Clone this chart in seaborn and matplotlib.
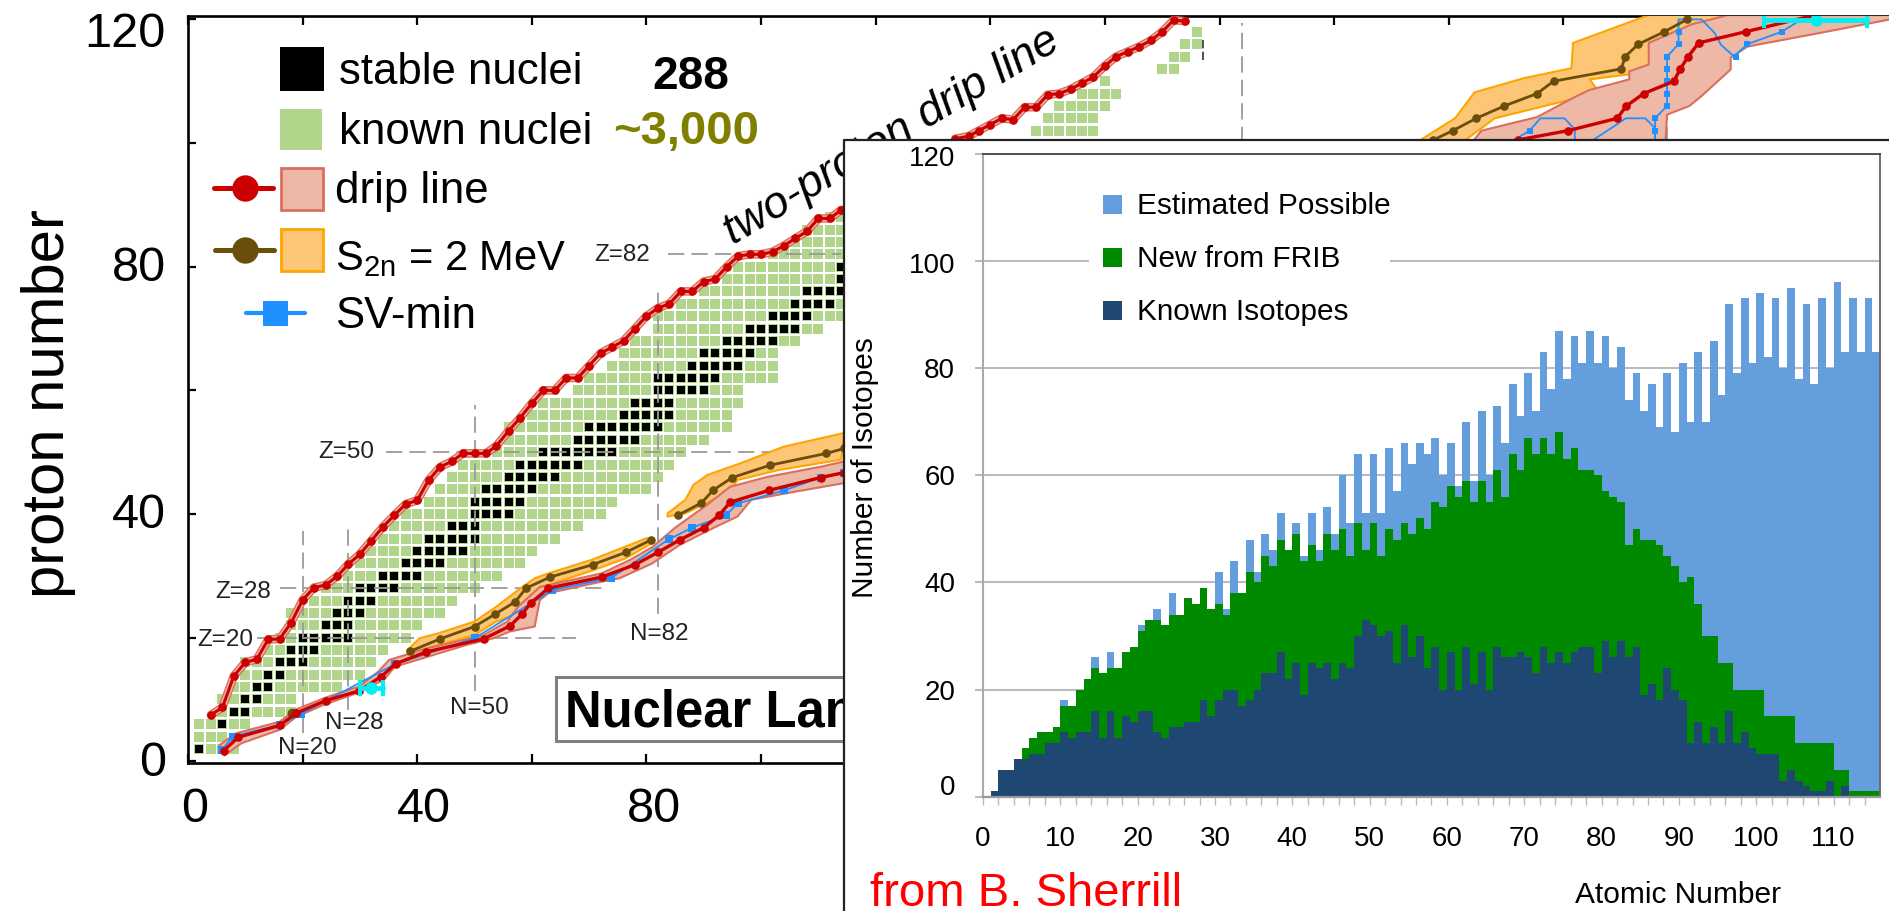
import numpy as np
import pandas as pd
import seaborn as sns
import matplotlib
matplotlib.use("Agg")
import matplotlib.pyplot as plt
from matplotlib.patches import Rectangle
from matplotlib.transforms import ScaledTranslation

W, H = 1890, 911

# ---- nuclear chart: even-even rows (Z, first N, last N)
ROW_Z = [2,4,6,8,10,12,14,16,18,20,22,24,26,28,30,32,34,36,38,40,42,44,46,48,50,52,54,56,58,60,62,64,66,68,70,72,74,76,78,80,82,84,86,88,
         102,104,106,108,110,112,114,116,118]
ROW_START = [2,2,2,6,6,8,10,10,14,16,18,18,22,24,28,30,32,34,36,38,42,44,46,48,54,56,56,60,62,68,70,74,76,78,82,82,86,90,94,96,102,106,108,112,
             148,150,152,156,160,170,172,174,176]
ROW_END = [8,6,10,18,18,26,30,32,34,38,40,44,46,50,54,58,60,64,68,72,74,80,82,84,86,90,94,94,96,96,102,102,102,106,110,114,116,118,120,120,120,120,120,120,
           158,158,160,162,160,172,174,176,176]
STABLE_Z = [2,6,8,10,12,14,16,18,20,22,24,26,28,30,32,34,36,38,40,42,44,46,48,50,52,54,56,58,60,62,64,66,68,70,72,74,76,78,80]
STABLE_START = [2,6,8,10,12,14,16,18,20,24,26,28,30,34,38,40,42,46,50,50,52,56,58,62,68,70,76,78,82,82,88,90,94,98,102,106,108,114,114]
STABLE_END = [2,6,10,12,14,16,20,22,28,28,30,32,36,40,44,48,50,50,56,58,60,64,68,74,78,82,84,84,90,92,96,98,102,106,108,112,116,118,118]

# ---- two-proton drip line
TWOP_N = [4,6,8,10,12,14,16,18,20,22,24,26,28,30,32,34,36,38,40,42,44,46,48,50,52,53.8,56,57.9,60,62,64,66,68,70,72,74,76,78,80,82,84,86,88,90,92,94,96,98,100,102,104,106,108,110,112,114,
          133.9,136.2,138,140,142,144,146,148,150,152,154,156,158,160,162,164,166,168,170,172,174]
TWOP_Z = [7.5,8.7,13.8,16,16.5,19.7,19.8,22.4,26.1,28.1,28.5,29.9,31.9,33.5,35.7,37.9,39.8,41.6,42.2,45.5,47.6,48.5,49.8,49.8,49.8,51,53.5,55.5,57.9,60,60,62,62,64,66,67,68,70,72,73.3,74,76,76,77.6,78,80,81.7,82,82,82.4,83.4,84.6,85.7,87.8,87.8,89.2,
          100.7,101.1,102,103,104,103.8,105.8,105.8,107.8,108,108.7,109.7,110.7,112.5,114,114.8,115.6,116.6,118,119.9,119.7]

# ---- neutron drip line (lower part / upper part)
DRIP_N = [6.2,8.8,16,18.9,24,29.9,33.7,36.3,41.6,51.6,56.2,58.3,59.8,62.9,72.2,78,82,85.8,90,92.7,94.6,101.3,110.4,114.5]
DRIP_Z = [1.7,3.9,5.8,7.8,9.8,11.4,13.7,15.8,17.7,19.8,21.9,23.8,25.6,28,29.8,31.8,33.8,35.8,37.8,39.8,41.9,43.8,45.9,46.7]
DRIP2_N = [232,240.8,249.4,251,254,259.3,260.4,261.8,263.6,271.8,283]
DRIP2_Z = [100.5,102,104,106,108,110,112,114,116.2,118,120.5]
BAND_N = [5.5,8.3,16,18.9,24,29.9,33.2,35.1,41.8,51.4,55.7,57.6,59.5,61.4,72.2,77.2,81.1,84.9,90.6,94.6,101.1,110.7,114.5,
          114.5,105.9,98.3,95.9,91.6,85.8,81,75.3,72.4,62.9,61.4,60.5,56.2,53.3,48.5,41.8,36.1,34.2,29.4,23.6,18.9,16,9.3,6.4]
BAND_Z = [2.6,4.5,6.4,8.4,10.3,12.1,14.5,16.4,18.3,20.3,22.6,25,26.6,28.2,30.4,32.6,34.7,37.7,41.5,44.4,46,47.7,48.5,
          45,43.6,42.3,39.6,37.7,35,32,29.6,29.1,27.2,26.1,21.8,21,19.9,18.8,16.9,15.3,13.2,11,9.1,7.2,5.1,2.9,1]
BAND2_N = [224,225.7,235.4,241.7,244.6,251.5,251.5,254.9,254.9,262.4,268.7,297,297,284.7,272.1,269.2,269.2,264.1,262,258.1,257.8]
BAND2_Z = [100,102,104.2,107.3,108.6,110.3,111.6,112.7,116.2,119.2,120.7,120.7,120,117.8,115.6,113.8,111.9,107.6,106,104.6,100]

# ---- S2n = 2 MeV
S2N_DOT_N = [18.2]
S2N_DOT_Z = [7.8]
S2N_A_N = [38.8,44,50,53.6,57.1,59,63.2,70.6,76.4,80.8]
S2N_A_Z = [17.8,19.8,21.8,23.8,25.8,28,29.8,31.8,33.8,35.8]
S2N_B_N = [85.5,89.6,91.7,95,101.6,111.4,114.5]
S2N_B_Z = [39.8,41.8,43.9,45.9,47.9,49.8,50.6]
S2N_C_N = [217.3,220.7,224.8,229.7,235.4,238.3,250.1,250.8,253.1,257.6,261.6]
S2N_C_Z = [100.5,102,104,106,108,110,112,114,116,118,120]
OR_A_N = [38.3,40.4,43.7,50,53.8,57.6,60.5,62.9,70.5,80.1,81,76.3,71,63.8,60.5,60,57.1,53.8,50,43.7,38.9]
OR_A_Z = [18,19.9,20.7,22.6,25,27.7,29.6,30.4,32.6,36.1,35.3,32.8,31,28.8,26.6,25.3,23.7,22.6,20.4,18.8,17.5]
OR_B_N = [83.7,86.8,88.2,90.6,96.4,104,114.5,114,103,95.9,94.4,86.8,83.7]
OR_B_Z = [40.1,42.3,44.7,46.3,48.2,50.9,53.1,48.8,47.1,45.5,43.6,40.1,39.6]
OR_C_N = [214.2,221.1,224.5,233.1,241.4,241.7,254.9,268.7,261.8,258.1,244.6,246.3,241.1,228,222.2]
OR_C_Z = [100,104,108.2,110.5,112.1,116.2,120.7,120.7,115.1,111.9,110.3,108.1,107,104,100]

# ---- SV-min
SV_N = [5.9,7.8,16,19.8,36.1,50,63.6,73.9,83.9,88,93.9,95.9,104,110.4,114.5]
SV_Z = [1.8,4,5.9,7.7,15.7,19.9,27.7,29.7,35.9,37.8,39.8,41.7,43.8,45.9,46.6]
SV2_N = [231.4,234.1,236,240.2,242,242]
SV2_Z = [100.5,102,104,104,102.2,100.5]
SV3_N = [245.2,248,250.9,254.3,256,256,256,258.1,258.1,258.1,258.1,258.1,260.1,260.1,260.1,264.1,266.4,267.5,269.8,272.1,278.1,282.4]
SV3_Z = [100.5,102.2,104,104,102.4,100.5,104,106,108,110,112,114,116,118,120,120,117.8,115.9,114,116,118,120.5]
SV3_MARK_N = [256,256,258.1,258.1,258.1,258.1,258.1,260.1,260.1,270.1,272.1,278.1,234.1]
SV3_MARK_Z = [102,104,106,108,110,112,114,116,118,114,116,118,102]

CYAN_A_N = [30,32,34]
CYAN_B_N = [275,284,293]
CYAN_A_Z = [11.8,11.8,11.8]
CYAN_B_Z = [119.9,119.9,119.9]

MAGIC_Z = [20,28,50,82]
MAGIC_Z_FROM = [12,16,34.6,83.7]
MAGIC_Z_TO = [67.7,72.4,114,114]
MAGIC_N = [20,28,50,82,184,258]
MAGIC_N_LOW = [4.5,8.3,11.3,23.9,100,100]
MAGIC_N_HIGH = [37.2,38.2,57.7,76.8,119.4,119.6]

# ---- inset: isotopes per atomic number, Z = 1..115
ATOMIC = list(range(1, 116))
KNOWN = [1,5,5,7,7,8,8,10,10,12,11,12,12,16,11,16,11,15,14,16,16,12,11,13,13,14,14,18,15,18,20,20,17,18,20,23,23,27,22,25,19,25,24,25,22,25,24,30,33,32,30,31,
         25,32,26,30,24,28,20,27,20,28,21,27,20,28,26,26,27,26,23,28,25,27,25,27,28,28,23,29,26,29,26,28,19,21,18,24,20,18,10,14,10,13,10,16,10,12,9,8,8,8,3,5,3,2,1,1,3,0,2,0,0,0,0]
WITH_FRIB = [1,5,5,7,9,11,12,12,13,17,17,20,22,24,23,24,24,27,28,31,33,33,32,34,34,37,36,39,35,36,34,38,38,42,40,45,43,48,46,49,44,47,44,49,46,50,45,51,46,51,45,50,
             48,51,49,52,50,55,54,58,56,59,55,59,55,61,56,64,61,67,64,67,64,68,63,65,61,61,60,57,56,55,47,50,48,48,47,45,43,40,41,36,30,30,25,25,20,20,20,20,15,15,15,15,10,10,10,10,10,5,5,1,1,1,1]
POSSIBLE = [1,5,5,7,9,11,12,12,13,18,17,20,22,26,23,27,24,27,28,32,33,35,32,38,34,37,36,39,35,42,35,44,38,48,42,49,46,53,46,51,45,53,46,54,49,60,51,64,53,64,53,65,
            57,66,62,66,64,67,60,66,58,70,59,72,60,73,66,77,71,79,72,83,76,87,78,86,81,87,81,86,80,84,74,79,72,77,69,79,68,81,70,83,70,85,75,92,79,93,81,94,82,93,80,95,78,92,77,93,80,96,83,93,83,93,83]
INSET_YTICKS = [0,20,40,60,80,100,120]
INSET_XLABELS = [0,10,20,30,40,50,60,70,80,90,100,110]
MAIN_XLABELS = [0,40,80]
MAIN_YLABELS = [0,40,80,120]

TXT = "#000000"
GREEN_SQ = "#B1D68B"
RED = "#CC0000"
RED_FILL = "#EDB8A5"
RED_EDGE = "#D9705F"
OR_FILL = "#FDC676"
OR_EDGE = "#FFA500"
BROWN = "#6B4E0A"
BLUE = "#1E90FF"
CYAN = "#00F0F0"
C_POS = "#659EDC"
C_NEW = "#008A00"
C_KNOWN = "#1E4872"

sns.set_theme(style="ticks")
plt.rcParams["font.family"] = ["Liberation Sans", "DejaVu Sans"]
plt.rcParams["mathtext.default"] = "regular"

fig = plt.figure(figsize=(W / 100, H / 100), dpi=100, facecolor="white")


def box(l, t, r, b):
    return [l / W, (H - b) / H, (r - l) / W, (b - t) / H]


def pixel_layer(z):
    a = fig.add_axes([0, 0, 1, 1], zorder=z)
    a.set_xlim(0, W)
    a.set_ylim(H, 0)
    a.axis("off")
    a.patch.set_alpha(0)
    return a


def shift(label, dx, dy):
    label.set_transform(label.get_transform() + ScaledTranslation(dx / 100, -dy / 100, fig.dpi_scale_trans))


# ---------- main chart
ax = fig.add_axes(box(188, 15.7, W, 762.7), zorder=1)
ax.set_xlim(0, 297)
ax.set_ylim(-0.23, 120.6)

known = pd.DataFrame([(n, z) for z, a, b in zip(ROW_Z, ROW_START, ROW_END) for n in range(a, b + 1, 2)], columns=["N", "Z"])
stable = pd.DataFrame([(n, z) for z, a, b in zip(STABLE_Z, STABLE_START, STABLE_END) for n in range(a, b + 1, 2)], columns=["N", "Z"])
sns.scatterplot(data=known, x="N", y="Z", marker="s", s=47, color=GREEN_SQ, linewidth=0, ax=ax, zorder=2)
sns.scatterplot(data=stable, x="N", y="Z", marker="s", s=36, color="black", linewidth=0, ax=ax, zorder=3)

DASH = dict(color="#9A9A9A", lw=1.3, zorder=4, dashes=(9, 4))
for z, a, b in zip(MAGIC_Z, MAGIC_Z_FROM, MAGIC_Z_TO):
    ax.plot([a, b], [z, z], **DASH)
for n, a, b in zip(MAGIC_N, MAGIC_N_LOW, MAGIC_N_HIGH):
    ax.plot([n, n], [a, b], **DASH)
ax.plot([177.2, 177.2], [113.5, 116.8], color="#333333", lw=1.2, dashes=(5, 2), zorder=4)

for xs, ys in ((OR_A_N, OR_A_Z), (OR_B_N, OR_B_Z), (OR_C_N, OR_C_Z)):
    ax.fill(xs, ys, facecolor=OR_FILL, edgecolor=OR_EDGE, lw=1.5, zorder=5)
for xs, ys in ((BAND_N, BAND_Z), (BAND2_N, BAND2_Z)):
    ax.fill(xs, ys, facecolor=RED_FILL, edgecolor=RED_EDGE, lw=1.5, zorder=6)

ax.plot(TWOP_N[:56], TWOP_Z[:56], color=RED_EDGE, lw=6.2, zorder=6, solid_joinstyle="round")
ax.plot(TWOP_N[:56], TWOP_Z[:56], color=RED_FILL, lw=4.2, zorder=6, solid_joinstyle="round")
ax.plot(TWOP_N[56:], TWOP_Z[56:], color=RED_EDGE, lw=6.2, zorder=6, solid_joinstyle="round")
ax.plot(TWOP_N[56:], TWOP_Z[56:], color=RED_FILL, lw=4.2, zorder=6, solid_joinstyle="round")


def curve(xs, ys, color, lw, marker, ms, z):
    sns.lineplot(x=xs, y=ys, sort=False, estimator=None, color=color, lw=lw, marker=marker,
                 markersize=ms, markeredgewidth=0, ax=ax, zorder=z, legend=False)


curve(SV_N, SV_Z, BLUE, 1.3, "s", 5.2, 7)
curve(SV2_N, SV2_Z, BLUE, 1.3, None, 0, 7)
curve(SV3_N, SV3_Z, BLUE, 1.3, None, 0, 7)
sns.scatterplot(x=SV3_MARK_N, y=SV3_MARK_Z, marker="s", s=22, color=BLUE, linewidth=0, ax=ax, zorder=7)
curve(S2N_A_N, S2N_A_Z, BROWN, 2.0, "o", 6.2, 8)
curve(S2N_B_N, S2N_B_Z, BROWN, 2.0, "o", 6.2, 8)
curve(S2N_C_N, S2N_C_Z, BROWN, 2.0, "o", 6.2, 8)
curve(S2N_DOT_N, S2N_DOT_Z, BROWN, 2.0, "o", 7, 8)
curve(DRIP_N, DRIP_Z, RED, 2.4, "o", 6.2, 9)
curve(DRIP2_N, DRIP2_Z, RED, 2.4, "o", 6.2, 9)
curve(TWOP_N[:56], TWOP_Z[:56], RED, 2.2, "o", 6.2, 9)
curve(TWOP_N[56:], TWOP_Z[56:], RED, 2.2, "o", 6.2, 9)
for xs, ys in ((CYAN_A_N, CYAN_A_Z), (CYAN_B_N, CYAN_B_Z)):
    ax.plot(xs, ys, color=CYAN, lw=3.5, zorder=10)
    ax.plot(xs[1:2], ys[1:2], "o", color=CYAN, ms=9, mew=0, zorder=10)
    ax.plot(xs[0:1] + xs[2:3], ys[0:1] + ys[2:3], "|", color=CYAN, ms=12, mew=3, zorder=10)

ax.set_xlabel("")
ax.set_ylabel("")
ax.set_xticks(range(0, 297, 20))
ax.set_xticklabels([str(v) if v in MAIN_XLABELS else "" for v in range(0, 297, 20)])
ax.set_yticks(range(0, 121, 20))
ax.set_yticklabels([str(v) if v in MAIN_YLABELS else "" for v in range(0, 121, 20)])
ax.tick_params(axis="x", which="major", direction="in", top=True, bottom=True, length=6.5, width=1.6, color="black", labelsize=35, labelcolor=TXT, pad=17.5)
ax.tick_params(axis="y", which="major", direction="in", left=True, right=False, length=6, width=1.6, color="black", labelsize=35, labelcolor=TXT, pad=16)
for t in ax.get_xticklabels():
    shift(t, 7, 0)
for t in ax.get_yticklabels():
    if t.get_text() == "120":
        shift(t, 0, 10)
    else:
        shift(t, 0, -3)
for side in ("left", "top", "bottom"):
    ax.spines[side].set_linewidth(1.9)
    ax.spines[side].set_color("black")
ax.spines["right"].set_visible(False)

# ---------- legend and labels over the chart
low = pixel_layer(2)
low.add_patch(Rectangle((280, 47), 44, 44, fc="black", ec="none"))
low.add_patch(Rectangle((280, 109), 42, 41, fc=GREEN_SQ, ec="none"))
low.add_patch(Rectangle((281, 168), 42, 42, fc=RED_FILL, ec=RED_EDGE, lw=2))
low.add_patch(Rectangle((281, 229), 42, 42, fc=OR_FILL, ec=OR_EDGE, lw=2))
low.plot([214, 273], [188, 188], color=RED, lw=3.6)
low.plot([245], [188], "o", color=RED, ms=19, mew=0)
low.plot([215, 274], [250, 250], color=BROWN, lw=3.6)
low.plot([245], [250], "o", color=BROWN, ms=19, mew=0)
low.plot([246, 305], [313, 313], color=BLUE, lw=3)
low.plot([275], [313], "s", color=BLUE, ms=18, mew=0)
low.set_xlim(0, W)
low.set_ylim(H, 0)
low.text(339, 72, "stable nuclei", fontsize=31.5, color=TXT, va="center", ha="left")
low.text(339, 132, "known nuclei", fontsize=31.5, color=TXT, va="center", ha="left")
low.text(335, 192, "drip line", fontsize=31.5, color=TXT, va="center", ha="left")
low.text(335, 259, "S$_{2n}$ = 2 MeV", fontsize=30, color=TXT, va="center", ha="left")
low.text(335, 317, "SV-min", fontsize=31.5, color=TXT, va="center", ha="left")
low.text(691, 77, "288", fontsize=33, fontweight="bold", color=TXT, va="center", ha="center")
low.text(686, 132, "~3,000", fontsize=34, fontweight="bold", color="#808000", va="center", ha="center")
low.text(49, 404, "proton number", fontsize=43, color=TXT, rotation=90, va="center", ha="center")
low.text(892, 137, "two-proton drip line", fontsize=32.5, style="italic", color=TXT, rotation=31, rotation_mode="anchor", va="center", ha="center")
for s, x, y in (("N=20", 307, 748), ("N=28", 354, 723), ("N=50", 479, 708), ("N=82", 659, 634),
                ("Z=20", 225, 640), ("Z=28", 243, 592), ("Z=50", 346, 452), ("Z=82", 622, 255)):
    low.text(x, y, s, fontsize=17.5, color="#222222", va="center", ha="center")
low.add_patch(Rectangle((556, 677), 400, 64, fc="white", ec="#808080", lw=2.2))
low.text(565, 714, "Nuclear Landscape", fontsize=36.5, fontweight="bold", color=TXT, va="center", ha="left")

# ---------- inset panel
panel = pixel_layer(3)
panel.add_patch(Rectangle((844, 140), W - 844, H - 140, fc="white", ec="none"))
panel.plot([844, 844, W], [H, 140, 140], color="#222222", lw=1.6)
panel.set_xlim(0, W)
panel.set_ylim(H, 0)

inset = fig.add_axes(box(983, 153.7, 1880, 796.7), zorder=4)
inset.set_facecolor("white")
table = pd.DataFrame({"Z": ATOMIC, "known": KNOWN, "frib": WITH_FRIB, "possible": POSSIBLE})
for col, c in (("possible", C_POS), ("frib", C_NEW), ("known", C_KNOWN)):
    sns.barplot(data=table, x="Z", y=col, native_scale=True, width=1, color=c, saturation=1, linewidth=0, ax=inset, zorder=2)
for p in inset.patches:
    p.set_antialiased(False)
inset.set_xlim(-0.5, 115.5)
inset.set_ylim(0, 120)
inset.set_xlabel("")
inset.set_ylabel("")
inset.set_axisbelow(True)
inset.grid(axis="y", color="#BBBBBB", lw=1.5)
inset.grid(axis="x", visible=False)
even_ticks = [z - 0.5 for z in range(0, 115, 2)]
inset.set_xticks(even_ticks)
inset.set_xticklabels([str(z) if z in INSET_XLABELS else "" for z in range(0, 115, 2)])
inset.set_yticks(INSET_YTICKS)
inset.set_yticklabels([str(v) for v in INSET_YTICKS])
inset.tick_params(axis="x", direction="out", length=5.8, width=1, color="#BBBBBB", labelsize=20, labelcolor=TXT, pad=15)
inset.tick_params(axis="y", direction="out", length=6, width=1.5, color="#BBBBBB", labelsize=20, labelcolor=TXT, pad=14)
for t in inset.get_yticklabels():
    if t.get_text() == "0":
        shift(t, 0, -12)
    elif t.get_text() in ("120", "100"):
        shift(t, 0, 2)
inset.spines["left"].set_color("#AAAAAA")
inset.spines["left"].set_linewidth(1.5)
inset.spines["top"].set_color("#444444")
inset.spines["top"].set_linewidth(1.3)
inset.spines["right"].set_color("#666666")
inset.spines["right"].set_linewidth(1.3)
inset.spines["bottom"].set_color("#999999")
inset.spines["bottom"].set_linewidth(1.6)

top = pixel_layer(5)
top.add_patch(Rectangle((1089, 195), 301, 125, fc="white", ec="none"))
for y, c, s in ((204, C_POS, "Estimated Possible"), (257, C_NEW, "New from FRIB"), (310, C_KNOWN, "Known Isotopes")):
    top.add_patch(Rectangle((1103, y - 9.5), 18.5, 19, fc=c, ec="none"))
    top.text(1137, y + 2, s, fontsize=21.4, color=TXT, va="center", ha="left")
top.text(865, 468, "Number of Isotopes", fontsize=21.5, color=TXT, rotation=90, va="center", ha="center")
top.text(1678, 895, "Atomic Number", fontsize=21.5, color=TXT, va="center", ha="center")
top.text(870, 894, "from B. Sherrill", fontsize=34, color="#FF0000", va="center", ha="left")

fig.savefig("out.png", dpi=100, facecolor="white")
